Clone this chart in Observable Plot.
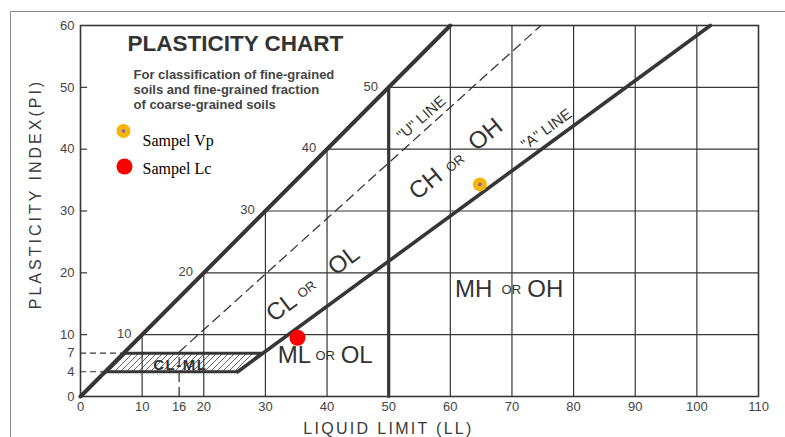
<!DOCTYPE html>
<html><head><meta charset="utf-8">
<script src="https://cdn.jsdelivr.net/npm/d3@7"></script>
<script src="https://cdn.jsdelivr.net/npm/@observablehq/plot@0.6"></script>
<style>
html,body{margin:0;padding:0;background:#fff;}
#wrap{position:relative;width:785px;height:437px;overflow:hidden;}
#border{position:absolute;left:10px;top:11px;right:-5px;bottom:-5px;border-left:1.5px solid #8a8a8a;border-top:1.5px solid #8a8a8a;pointer-events:none;}
</style></head><body>
<div id="wrap"><div id="chart"></div><div id="border"></div></div>
<script>
// ---- data ----
const xTicks = [0, 10, 16, 20, 30, 40, 50, 60, 70, 80, 90, 100, 110];
const yTicks = [0, 4, 7, 10, 20, 30, 40, 50, 60];
const gridLL = [10, 20, 30, 40, 60, 70, 80, 90, 100];
const gridPI = [10, 20, 30, 40, 50];
const diagLabels = [10, 20, 30, 40, 50];
const dashPI = [4, 7];

const sampleNames = ["Sampel Vp", "Sampel Lc"];
const sampleLL = [64.8, 35.2];
const samplePI = [34.3, 9.5];
const sampleColors = ["#f7b400", "#ff0000"];
const sampleCore = ["#7a66b0", null];
const sampleR = [7, 8];

const lineUpper = [{ll: 0, pi: 0}, {ll: 60, pi: 60}];
const lineA = [{ll: 25.5, pi: 4}, {ll: 102.2, pi: 60}];
const lineU = [{ll: 16, pi: 0}, {ll: 16, pi: 7.2}, {ll: 74.7, pi: 60}];
const lineLL50 = [{ll: 50, pi: 0}, {ll: 50, pi: 50}];
const clml = [{pi: 4, left: 4, right: 25.5}, {pi: 7, left: 7, right: 29.6}];

const zoneText = ["CH", "OR", "OH", "CL", "OR", "OL", "ML", "OR", "OL", "MH", "OR", "OH"];
const zoneLL = [56.0, 60.8, 65.7, 32.6, 36.7, 42.7, 34.7, 39.7, 44.8, 63.8, 69.9, 75.4];
const zonePI = [34.4, 37.7, 42.4, 14.4, 17.3, 22.0, 6.6, 6.5, 6.6, 17.3, 17.3, 17.3];
const zoneSize = [24, 13, 24, 24, 13, 24, 24, 13, 24, 24, 13, 24];
const zoneRot = [-39, -39, -39, -37, -37, -37, 0, 0, 0, 0, 0, 0];

const lineLabels = ['"U" LINE', '"A" LINE', "CL-ML"];
const lineLabelLL = [55.3, 75.6, 16.2];
const lineLabelPI = [45.0, 43.2, 5.0];
const lineLabelRot = [-41, -36, 0];

const title = "PLASTICITY CHART";
const subtitleLines = ["For classification of fine-grained", "soils and fine-grained fraction", "of coarse-grained soils"];
const xLabel = "LIQUID LIMIT (LL)";
const yLabel = "PLASTICITY INDEX(PI)";

// ---- build ----
const ink = "#363636";
const samples = sampleNames.map((n, i) => ({name: n, ll: sampleLL[i], pi: samplePI[i], color: sampleColors[i], core: sampleCore[i], r: sampleR[i]}));
const zones = zoneText.map((t, i) => ({t, ll: zoneLL[i], pi: zonePI[i], size: zoneSize[i], rot: zoneRot[i]}));
const lineLabs = lineLabels.map((t, i) => ({t, ll: lineLabelLL[i], pi: lineLabelPI[i], rot: lineLabelRot[i]}));

const marks = [
  // hatch fill
  Plot.areaX(clml, {y: "pi", x1: "left", x2: "right", fill: "url(#hatch)"}),
  // grid
  Plot.ruleX(gridLL, {x: d => d, y1: 0, y2: d => Math.min(d, 60), stroke: ink, strokeWidth: 1.2}),
  Plot.ruleY(gridPI, {y: d => d, x1: d => d, x2: 110, stroke: ink, strokeWidth: 1.2}),
  Plot.ruleY(gridPI, {y: d => d, x1: 0, x2: 1.15, stroke: ink, strokeWidth: 1.2}),
  Plot.frame({stroke: ink, strokeWidth: 1.6}),
  // dashed 4 / 7
  Plot.ruleY(dashPI, {y: d => d, x1: 0, x2: d => d, stroke: ink, strokeWidth: 1.2, strokeDasharray: "6,4"}),
  // CL-ML outline
  Plot.ruleY(clml, {y: "pi", x1: "left", x2: "right", stroke: ink, strokeWidth: 3}),
  // U line
  Plot.line(lineU, {x: "ll", y: "pi", stroke: ink, strokeWidth: 1.3, strokeDasharray: "9,6"}),
  // boundaries
  Plot.line(lineUpper, {x: "ll", y: "pi", stroke: ink, strokeWidth: 4}),
  Plot.line(lineA, {x: "ll", y: "pi", stroke: ink, strokeWidth: 3.6}),
  Plot.line(lineLL50, {x: "ll", y: "pi", stroke: ink, strokeWidth: 3.2}),
  // tick labels
  Plot.text(yTicks, {y: d => d, frameAnchor: "left", dx: -6, textAnchor: "end", fontSize: 13, fill: "#444"}),
  Plot.text(xTicks, {x: d => d, frameAnchor: "bottom", dy: 10, lineAnchor: "middle", fontSize: 13, fill: "#444"}),
  Plot.text(diagLabels, {x: d => d, y: d => d, dx: -18, dy: -1, fontSize: 13, fill: "#444"}),
  // axis titles
  Plot.text([xLabel], {frameAnchor: "bottom", dx: -31, dy: 32, textAnchor: "middle", lineAnchor: "middle", fontSize: 16, fill: "#3a3a3a"}),
  Plot.text([yLabel], {frameAnchor: "left", dx: -45, dy: -17, rotate: -90, textAnchor: "middle", lineAnchor: "middle", fontSize: 16, fill: "#3a3a3a"}),
  // title
  Plot.text([title], {frameAnchor: "top-left", dx: 47, dy: 10, textAnchor: "start", lineAnchor: "top", fontSize: 22.5, fontWeight: "bold", fill: "#333"}),
  Plot.text([subtitleLines.join("\n")], {frameAnchor: "top-left", dx: 53, dy: 43, textAnchor: "start", lineAnchor: "top", lineHeight: 1.15, fontSize: 13, fontWeight: "bold", fill: "#444"}),
  // zone labels
  ...zones.map(z => Plot.text([z], {x: "ll", y: "pi", text: "t", rotate: z.rot, fontSize: z.size, fill: "#333"})),
  ...lineLabs.map(z => Plot.text([z], {x: "ll", y: "pi", text: "t", rotate: z.rot, fontSize: 15, fontWeight: z.t === "CL-ML" ? "bold" : "normal", fill: "#333"})),
  // samples
  ...samples.map(s => Plot.dot([s], {x: "ll", y: "pi", r: s.r, fill: s.color, stroke: null})),
  ...samples.filter(s => s.core).map(s => Plot.dot([s], {x: "ll", y: "pi", r: 1.8, fill: s.core})),
  // legend
  ...samples.map((s, i) => Plot.dot([s], {frameAnchor: "top-left", dx: 43 + i * 1, dy: 105.5 + i * 35.5, r: s.r, fill: s.color})),
  ...samples.filter(s => s.core).map(s => Plot.dot([s], {frameAnchor: "top-left", dx: 43, dy: 105.5, r: 1.8, fill: s.core})),
  ...samples.map((s, i) => Plot.text([s], {frameAnchor: "top-left", dx: 62, dy: 115 + i * 28, text: "name", textAnchor: "start", lineAnchor: "middle", fontSize: 16, fontFamily: "Liberation Serif, Times New Roman, serif", fill: "#000"}))
];

const svg = Plot.plot({
  width: 785, height: 437,
  marginLeft: 80, marginRight: 27, marginTop: 25, marginBottom: 41,
  x: {domain: [0, 110], axis: null},
  y: {domain: [0, 60], axis: null},
  style: {fontFamily: "Liberation Sans, Arial, sans-serif", background: "#fff", overflow: "visible"},
  marks
});

const defs = d3.select(svg).insert("defs", ":first-child");
const pat = defs.append("pattern").attr("id", "hatch").attr("patternUnits", "userSpaceOnUse").attr("width", 6).attr("height", 6);
pat.append("path").attr("d", "M-1,1 l2,-2 M0,6 l6,-6 M5,7 l2,-2").attr("stroke", "#555").attr("stroke-width", 0.9).attr("fill", "none");

const spacing = {[xLabel]: "2.3px", [yLabel]: "3px", "CL-ML": "1.5px"};
d3.select(svg).selectAll("text").each(function () {
  const t = this.textContent;
  if (spacing[t]) this.setAttribute("letter-spacing", spacing[t]);
});
document.getElementById("chart").appendChild(svg);
</script>
</body></html>
